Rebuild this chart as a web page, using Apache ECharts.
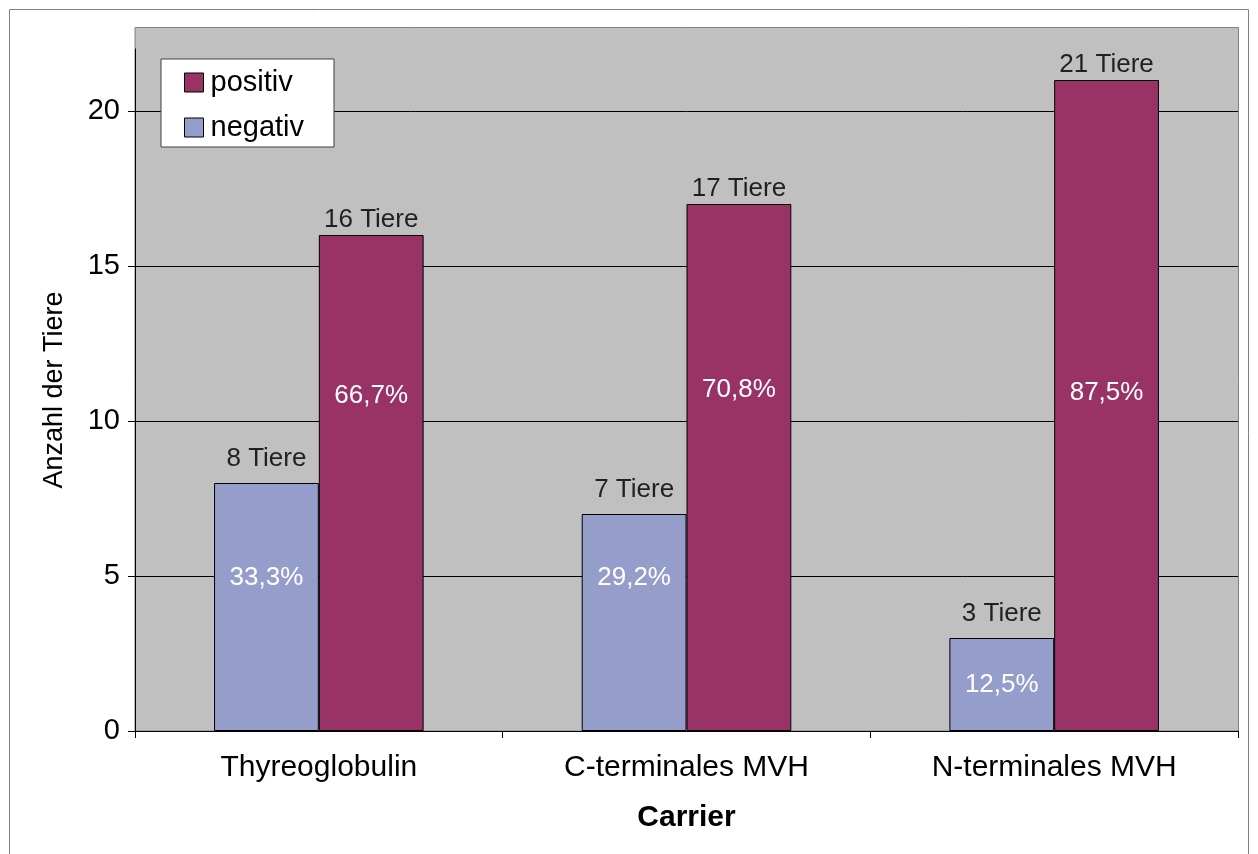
<!DOCTYPE html>
<html>
<head>
<meta charset="utf-8">
<script src="https://cdn.jsdelivr.net/npm/echarts@6/dist/echarts.min.js"></script>
<style>
  html, body { margin: 0; padding: 0; background: #fff; }
  #chart { width: 1258px; height: 854px; }
</style>
</head>
<body>
<div id="chart"></div>
<script>
// Carrier groups on the x axis
const categories = ['Thyreoglobulin', 'C-terminales MVH', 'N-terminales MVH'];
// Number of animals per group
const positivValues = [16, 17, 21];
const negativValues = [8, 7, 3];
// Share of animals, as printed inside the bars
const positivShare = ['66,7%', '70,8%', '87,5%'];
const negativShare = ['33,3%', '29,2%', '12,5%'];
// Y axis ticks
const yTicks = [0, 5, 10, 15, 20];

// Height (in axis units) at which each share label sits inside its bar
const positivShareAt = [10.8, 11.0, 10.9];
const negativShareAt = [4.94, 4.94, 1.48];

const FONT = "'Liberation Sans', Arial, sans-serif";

function shareMarks(shares, at) {
  return shares.map((s, i) => ({ name: s, coord: [i, at[i]] }));
}

function barSeries(name, values, color, shares, at, labelDistance) {
  return {
    name: name,
    type: 'bar',
    data: values,
    barGap: '0%',
    barCategoryGap: '43%',
    itemStyle: { color: color, borderColor: '#000', borderWidth: 1 },
    label: {
      show: true,
      position: 'top',
      distance: labelDistance,
      formatter: '{c} Tiere',
      color: '#231f20',
      fontFamily: FONT,
      fontSize: 26
    },
    markPoint: {
      symbol: 'rect',
      symbolSize: 1,
      itemStyle: { color: 'rgba(0,0,0,0)' },
      label: {
        show: true,
        position: 'inside',
        formatter: '{b}',
        color: '#fff',
        fontFamily: FONT,
        fontSize: 26
      },
      data: shareMarks(shares, at)
    }
  };
}

const chart = echarts.init(document.getElementById('chart'), null, { renderer: 'canvas' });

chart.setOption({
  animation: false,
  backgroundColor: '#fff',
  graphic: [
    {
      type: 'rect',
      z: -10,
      shape: { x: 9.5, y: 9.5, width: 1239, height: 870 },
      style: { fill: '#fff', stroke: '#808080', lineWidth: 1 }
    },
    {
      type: 'rect',
      z: -5,
      shape: { x: 135, y: 27.5, width: 1103.5, height: 703.5 },
      style: { fill: '#c0c0c0', stroke: '#808080', lineWidth: 1 }
    }
  ],
  grid: { left: 135, right: 20, top: 49, bottom: 123, containLabel: false },
  legend: {
    data: ['positiv', 'negativ'],
    orient: 'vertical',
    left: 161,
    top: 59,
    backgroundColor: '#fff',
    borderColor: '#404040',
    borderWidth: 1,
    padding: [9, 30, 5, 23],
    itemWidth: 19,
    itemHeight: 19,
    itemGap: 16,
    itemStyle: { borderColor: '#000', borderWidth: 1 },
    icon: 'rect',
    textStyle: { fontFamily: FONT, fontSize: 29, color: '#000', padding: [0, 0, 0, 2] }
  },
  xAxis: {
    type: 'category',
    data: categories,
    name: 'Carrier',
    nameLocation: 'middle',
    nameGap: 72,
    nameTextStyle: { fontFamily: FONT, fontSize: 30, fontWeight: 'bold', color: '#000' },
    axisLine: { lineStyle: { color: '#000', width: 1 } },
    axisTick: { show: true, length: 7, lineStyle: { color: '#000' } },
    axisLabel: { fontFamily: FONT, fontSize: 30, color: '#000', margin: 22 }
  },
  yAxis: {
    type: 'value',
    min: yTicks[0],
    max: 22,
    interval: yTicks[1] - yTicks[0],
    name: 'Anzahl der Tiere',
    nameLocation: 'middle',
    nameGap: 67,
    nameRotate: 90,
    nameTextStyle: { fontFamily: FONT, fontSize: 27, color: '#000' },
    axisLine: { show: true, lineStyle: { color: '#000', width: 1 } },
    axisTick: { show: true, length: 7, lineStyle: { color: '#000' } },
    axisLabel: {
      fontFamily: FONT, fontSize: 29, color: '#000', margin: 15,
      showMaxLabel: false,
      formatter: v => (yTicks.indexOf(v) >= 0 ? String(v) : '')
    },
    splitLine: { show: true, showMaxLine: false, lineStyle: { color: '#000', width: 1 } }
  },
  series: [
    barSeries('negativ', negativValues, '#959dcb', negativShare, negativShareAt, 11),
    barSeries('positiv', positivValues, '#993366', positivShare, positivShareAt, 2)
  ]
});
</script>
</body>
</html>
